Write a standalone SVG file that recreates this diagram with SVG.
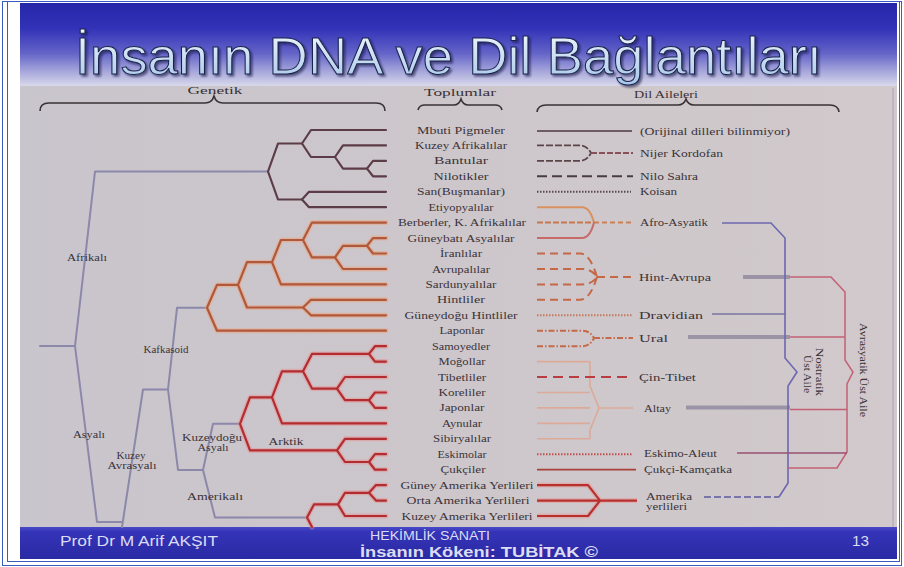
<svg xmlns="http://www.w3.org/2000/svg" width="904" height="567" viewBox="0 0 904 567">
<defs>
<linearGradient id="sky" x1="0" y1="0" x2="0" y2="1">
<stop offset="0" stop-color="#2626a8"/>
<stop offset="0.3" stop-color="#3232b8"/>
<stop offset="0.6" stop-color="#6464c8"/>
<stop offset="0.82" stop-color="#a8a8dc"/>
<stop offset="1" stop-color="#dcdcec"/>
</linearGradient>
<linearGradient id="tfill" x1="0" y1="0" x2="0" y2="1">
<stop offset="0" stop-color="#f4faff"/>
<stop offset="1" stop-color="#a6c6e8"/>
</linearGradient>
<linearGradient id="foot" x1="0" y1="0" x2="0" y2="1">
<stop offset="0" stop-color="#4a4ac8"/>
<stop offset="0.15" stop-color="#3434b8"/>
<stop offset="1" stop-color="#2a2aa4"/>
</linearGradient>
<linearGradient id="paper" x1="0" y1="0" x2="1" y2="0">
<stop offset="0" stop-color="#c9c5cc"/>
<stop offset="1" stop-color="#d1c9cb"/>
</linearGradient>
<filter id="shadow" x="-5%" y="-20%" width="110%" height="140%">
<feDropShadow dx="2" dy="2" stdDeviation="0.8" flood-color="#10143a" flood-opacity="0.6"/>
</filter>
<style>
.t{font-family:"Liberation Serif","Times New Roman",serif;font-size:10.5px;fill:#3b3338}
.pop{text-anchor:middle}
.m{text-anchor:middle}
.hd{font-family:"Liberation Serif","Times New Roman",serif;font-size:11px;fill:#3a3236;text-anchor:middle}
.brace{fill:none;stroke:#3a3236;stroke-width:1.6}
.tr{fill:none;stroke-linejoin:round;stroke-linecap:round}
.gray{stroke:#8c88aa;stroke-width:2}
.afr{stroke:#5c3c46;stroke-width:2.2}
.cauG{stroke:#eea27a;stroke-width:5;opacity:.5}
.cau{stroke:#b0583a;stroke-width:2.2}
.neaG{stroke:#ea8a8a;stroke-width:5;opacity:.45}
.nea{stroke:#b22c30;stroke-width:2.2}
.ln{fill:none}
.foot{font-family:"Liberation Sans",Arial,sans-serif;fill:#dcdcf2}
</style>
</defs>
<rect width="904" height="567" fill="#ffffff"/>
<rect x="2.5" y="1.5" width="899" height="564" fill="none" stroke="#3a5cc0" stroke-width="1"/>
<rect x="7.5" y="1.5" width="892" height="560" fill="none" stroke="#3a5cc0" stroke-width="1"/>
<rect x="20" y="3" width="877" height="84" fill="url(#sky)"/>
<rect x="20" y="86" width="877" height="441" fill="url(#paper)"/>
<line x1="893" y1="88" x2="893" y2="527" stroke="#a8a4b2" stroke-width="1"/>
<rect x="20" y="527" width="877" height="32" fill="url(#foot)"/>

<g id="title">
<text x="75" y="73.5" font-family="Liberation Sans,Arial,sans-serif" font-size="52" textLength="747" lengthAdjust="spacingAndGlyphs" fill="url(#tfill)" stroke="#18204a" stroke-width="1" filter="url(#shadow)">İnsanın DNA ve Dil Bağlantıları</text>
</g>

<g id="header-genetik"><text class="hd" x="215" y="94" textLength="55" lengthAdjust="spacingAndGlyphs">Genetik</text><path class="brace" d="M40,111 Q40,103 49,103 H205 Q212,103 214,96 Q216,103 223,103 H376 Q385,103 385,111"/></g>
<g id="header-toplumlar"><text class="hd" x="460" y="96" textLength="72" lengthAdjust="spacingAndGlyphs">Toplumlar</text><path class="brace" d="M418,110 Q419,105 425,105 H454 Q459,105 461,99 Q463,105 468,105 H495 Q501,105 502,110"/></g>
<g id="header-dil"><text class="hd" x="666" y="97.5" textLength="64" lengthAdjust="spacingAndGlyphs">Dil Aileleri</text><path class="brace" d="M537,112 Q538,105 546,105 H678 Q684,105 686,99 Q688,105 694,105 H830 Q838,105 839,112"/></g>

<g id="connectors">
<g class="tr gray">
<path d="M40,346 H75"/>
<path d="M268,171.5 H95 L75,346 L97,522 H122"/>
<path d="M168,389.5 H143 L122,527"/>
<path d="M207,307.8 H177 L168,389.5 L178,470 H203"/>
<path d="M240,423.8 H213 L203,470 L215,517.5 H307"/>
</g>
<g class="tr afr">
<path d="M386,130 H311 L302,143.5 L311,157 H335"/>
<path d="M386,145.4 H343 L335,157 L343,168.6 H367"/>
<path d="M386,160.9 H373 L367,168.6 L373,176.3 H386"/>
<path d="M386,191.8 H309 L302,199.5 L309,207.2 H386"/>
<path d="M302,143.5 H278 L268,171.5 L278,199.5 H302"/>
</g>
<g class="tr cauG">
<path d="M386,238.1 H373 L367,245.8 L373,253.5 H386"/>
<path d="M367,245.8 H343 L335,257.4 L343,269 H386"/>
<path d="M386,222.6 H312 L303,240 L312,257.4 H335"/>
<path d="M303,240 H281 L272,262.2 L281,284.4 H386"/>
<path d="M386,299.8 H311 L303,307.5 L311,315.3 H386"/>
<path d="M272,262.2 H247 L238,284.9 L247,307.5 H303"/>
<path d="M238,284.9 H217 L207,307.8 L217,330.7 H386"/>
</g>
<g class="tr cau">
<path d="M386,238.1 H373 L367,245.8 L373,253.5 H386"/>
<path d="M367,245.8 H343 L335,257.4 L343,269 H386"/>
<path d="M386,222.6 H312 L303,240 L312,257.4 H335"/>
<path d="M303,240 H281 L272,262.2 L281,284.4 H386"/>
<path d="M386,299.8 H311 L303,307.5 L311,315.3 H386"/>
<path d="M272,262.2 H247 L238,284.9 L247,307.5 H303"/>
<path d="M238,284.9 H217 L207,307.8 L217,330.7 H386"/>
</g>
<g class="tr neaG">
<path d="M386,346.2 H375 L369,353.9 L375,361.6 H386"/>
<path d="M386,392.5 H375 L369,400.2 L375,407.9 H386"/>
<path d="M386,377 H345 L337,388.6 L345,400.2 H369"/>
<path d="M369,353.9 H312 L303,371.3 L312,388.6 H337"/>
<path d="M303,371.3 H282 L272,397.3 L282,423.4 H386"/>
<path d="M386,454.2 H375 L369,462 L375,469.7 H386"/>
<path d="M386,438.8 H345 L337,450.4 L345,462 H369"/>
<path d="M272,397.3 H250 L240,423.8 L250,450.4 H337"/>
<path d="M386,485.1 H376 L369,492.8 L376,500.6 H386"/>
<path d="M369,492.8 H345 L338,504.4 L345,516 H386"/>
<path d="M338,504.4 H314 L307,517.5 L312,527"/>
</g>
<g class="tr nea">
<path d="M386,346.2 H375 L369,353.9 L375,361.6 H386"/>
<path d="M386,392.5 H375 L369,400.2 L375,407.9 H386"/>
<path d="M386,377 H345 L337,388.6 L345,400.2 H369"/>
<path d="M369,353.9 H312 L303,371.3 L312,388.6 H337"/>
<path d="M303,371.3 H282 L272,397.3 L282,423.4 H386"/>
<path d="M386,454.2 H375 L369,462 L375,469.7 H386"/>
<path d="M386,438.8 H345 L337,450.4 L345,462 H369"/>
<path d="M272,397.3 H250 L240,423.8 L250,450.4 H337"/>
<path d="M386,485.1 H376 L369,492.8 L376,500.6 H386"/>
<path d="M369,492.8 H345 L338,504.4 L345,516 H386"/>
<path d="M338,504.4 H314 L307,517.5 L312,527"/>
</g>

<g class="ln">
<path d="M537,131 H632" stroke="#4c3a40" stroke-width="1.7"/>
<path d="M537,145.4 H580 Q587,145.4 591,153 M537,160.9 H580 Q587,160.9 591,153" stroke="#5a4448" stroke-width="1.8" stroke-dasharray="7 2"/>
<path d="M591,153 H633" stroke="#8a5058" stroke-width="1.8" stroke-dasharray="6 2"/>
<path d="M537,176.3 H633" stroke="#4a3c42" stroke-width="2" stroke-dasharray="10 5"/>
<path d="M537,191.8 H631" stroke="#5a4a50" stroke-width="2" stroke-dasharray="1.5 1.5"/>
<path d="M537,207.2 H582 Q590,207.2 594,222.6" stroke="#d89262" stroke-width="2"/>
<path d="M537,222.6 H594" stroke="#c87850" stroke-width="2" stroke-dasharray="6 2"/>
<path d="M537,238.1 H582 Q590,238.1 594,222.6" stroke="#c86a6a" stroke-width="2"/>
<path d="M594,222.6 H633" stroke="#c98056" stroke-width="2" stroke-dasharray="5 3"/>
<path d="M537,253.5 H580 Q590,253.5 597,277 M537,269 H582 Q592,269 597,277 M537,284.4 H582 Q592,284.4 597,277 M537,299.8 H580 Q590,299.8 597,277" stroke="#c46848" stroke-width="2" stroke-dasharray="8 5"/>
<path d="M597,277 H633" stroke="#c46848" stroke-width="2" stroke-dasharray="8 5"/>
<path d="M537,315.3 H632" stroke="#c47a5a" stroke-width="2" stroke-dasharray="1.5 1.5"/>
<path d="M537,330.7 H582 Q590,330.7 594,338 M537,346.2 H582 Q590,346.2 594,338 M594,338 H633" stroke="#c46a48" stroke-width="2" stroke-dasharray="6 2 1.5 2"/>
<path d="M537,361.6 H590 M537,392.5 H590 M537,407.9 H590 M537,423.4 H590 M537,438.8 H590 M590,361.6 V386 L599,408 L590,430 V438.8 M599,408 H633" stroke="#dcaa98" stroke-width="1.6"/>
<path d="M537,377 H633" stroke="#b83c40" stroke-width="2.2" stroke-dasharray="10 6"/>
<path d="M537,454.2 H633" stroke="#c05050" stroke-width="2" stroke-dasharray="1.5 1.5"/>
<path d="M537,469.7 H636" stroke="#a8403c" stroke-width="1.8"/>
<path d="M537,485.1 H588 L600,500.6 L588,516 H537 M537,500.6 H637" stroke="#ea8a8a" stroke-width="5" opacity="0.4" stroke-linejoin="round"/>
<path d="M537,485.1 H588 L600,500.6 L588,516 H537 M537,500.6 H637" stroke="#b8302c" stroke-width="2.2" stroke-linejoin="round"/>

<path d="M743,277 H790 M688,337 H790 M686,407.5 H790" stroke="#9a94a6" stroke-width="4"/>
<path d="M722,223 H771 L785,238 V358 L797,372 L788,386 V483 L779,497" stroke="#6c68b0" stroke-width="1.6"/>
<path d="M704,497 H779" stroke="#5c5aa0" stroke-width="1.6" stroke-dasharray="7 3"/>
<path d="M712,314 H786" stroke="#7a74a0" stroke-width="1.4"/>
<path d="M790,277 H831 L845,292 V360 L853,372 L847,384 V452 L837,468 H787" stroke="#c46076" stroke-width="1.5"/>
<path d="M790,337 H845 M790,409.5 H847" stroke="#c46076" stroke-width="1.5"/>
<path d="M737,453 H847" stroke="#985070" stroke-width="1.3"/>
</g>
</g>

<g id="pop-1"><text class="t pop" x="461" y="133.5" textLength="88" lengthAdjust="spacingAndGlyphs">Mbuti Pigmeler</text></g>
<g id="pop-2"><text class="t pop" x="461" y="148.9" textLength="92" lengthAdjust="spacingAndGlyphs">Kuzey Afrikalılar</text></g>
<g id="pop-3"><text class="t pop" x="461" y="164.4" textLength="54" lengthAdjust="spacingAndGlyphs">Bantular</text></g>
<g id="pop-4"><text class="t pop" x="461" y="179.8" textLength="55" lengthAdjust="spacingAndGlyphs">Nilotikler</text></g>
<g id="pop-5"><text class="t pop" x="461" y="195.3" textLength="88" lengthAdjust="spacingAndGlyphs">San(Buşmanlar)</text></g>
<g id="pop-6"><text class="t pop" x="461" y="210.7" textLength="65" lengthAdjust="spacingAndGlyphs">Etiyopyalılar</text></g>
<g id="pop-7"><text class="t pop" x="462" y="226.1" textLength="128" lengthAdjust="spacingAndGlyphs">Berberler, K. Afrikalılar</text></g>
<g id="pop-8"><text class="t pop" x="461" y="241.6" textLength="107" lengthAdjust="spacingAndGlyphs">Güneybatı Asyalılar</text></g>
<g id="pop-9"><text class="t pop" x="461" y="257" textLength="42" lengthAdjust="spacingAndGlyphs">İranlılar</text></g>
<g id="pop-10"><text class="t pop" x="461" y="272.5" textLength="58" lengthAdjust="spacingAndGlyphs">Avrupalılar</text></g>
<g id="pop-11"><text class="t pop" x="461" y="287.9" textLength="71" lengthAdjust="spacingAndGlyphs">Sardunyalılar</text></g>
<g id="pop-12"><text class="t pop" x="461" y="303.3" textLength="48" lengthAdjust="spacingAndGlyphs">Hintliler</text></g>
<g id="pop-13"><text class="t pop" x="461" y="318.8" textLength="113" lengthAdjust="spacingAndGlyphs">Güneydoğu Hintliler</text></g>
<g id="pop-14"><text class="t pop" x="462" y="334.2" textLength="45" lengthAdjust="spacingAndGlyphs">Laponlar</text></g>
<g id="pop-15"><text class="t pop" x="461" y="349.7" textLength="58" lengthAdjust="spacingAndGlyphs">Samoyedler</text></g>
<g id="pop-16"><text class="t pop" x="462" y="365.1" textLength="47" lengthAdjust="spacingAndGlyphs">Moğollar</text></g>
<g id="pop-17"><text class="t pop" x="462" y="380.5" textLength="48" lengthAdjust="spacingAndGlyphs">Tibetliler</text></g>
<g id="pop-18"><text class="t pop" x="462" y="396" textLength="47" lengthAdjust="spacingAndGlyphs">Koreliler</text></g>
<g id="pop-19"><text class="t pop" x="462" y="411.4" textLength="45" lengthAdjust="spacingAndGlyphs">Japonlar</text></g>
<g id="pop-20"><text class="t pop" x="462" y="426.9" textLength="40" lengthAdjust="spacingAndGlyphs">Aynular</text></g>
<g id="pop-21"><text class="t pop" x="462" y="442.3" textLength="58" lengthAdjust="spacingAndGlyphs">Sibiryalılar</text></g>
<g id="pop-22"><text class="t pop" x="462" y="457.7" textLength="49" lengthAdjust="spacingAndGlyphs">Eskimolar</text></g>
<g id="pop-23"><text class="t pop" x="463" y="473.2" textLength="45" lengthAdjust="spacingAndGlyphs">Çukçiler</text></g>
<g id="pop-24"><text class="t pop" x="467" y="488.6" textLength="133" lengthAdjust="spacingAndGlyphs">Güney Amerika Yerlileri</text></g>
<g id="pop-25"><text class="t pop" x="468" y="504.1" textLength="123" lengthAdjust="spacingAndGlyphs">Orta Amerika Yerlileri</text></g>
<g id="pop-26"><text class="t pop" x="467" y="519.5" textLength="131" lengthAdjust="spacingAndGlyphs">Kuzey Amerika Yerlileri</text></g>

<g id="lang-orijinal"><text class="t" x="640" y="134.5" textLength="150" lengthAdjust="spacingAndGlyphs">(Orijinal dilleri bilinmiyor)</text></g>
<g id="lang-nijer"><text class="t" x="640" y="156.5" textLength="83" lengthAdjust="spacingAndGlyphs">Nijer Kordofan</text></g>
<g id="lang-nilo"><text class="t" x="640" y="179.8" textLength="58" lengthAdjust="spacingAndGlyphs">Nilo Sahra</text></g>
<g id="lang-koisan"><text class="t" x="640" y="195.3" textLength="37" lengthAdjust="spacingAndGlyphs">Koisan</text></g>
<g id="lang-afroasyatik"><text class="t" x="640" y="226.1" textLength="68" lengthAdjust="spacingAndGlyphs">Afro-Asyatik</text></g>
<g id="lang-hintavrupa"><text class="t" x="639" y="281" textLength="72" lengthAdjust="spacingAndGlyphs">Hint-Avrupa</text></g>
<g id="lang-dravidian"><text class="t" x="639" y="318.8" textLength="64" lengthAdjust="spacingAndGlyphs">Dravidian</text></g>
<g id="lang-ural"><text class="t" x="639" y="341.5" textLength="29" lengthAdjust="spacingAndGlyphs">Ural</text></g>
<g id="lang-cintibet"><text class="t" x="639" y="380.5" textLength="57" lengthAdjust="spacingAndGlyphs">Çin-Tibet</text></g>
<g id="lang-altay"><text class="t" x="644" y="411.5" textLength="27" lengthAdjust="spacingAndGlyphs">Altay</text></g>
<g id="lang-eskimo"><text class="t" x="644" y="456.5" textLength="73" lengthAdjust="spacingAndGlyphs">Eskimo-Aleut</text></g>
<g id="lang-cukci"><text class="t" x="644" y="473" textLength="88" lengthAdjust="spacingAndGlyphs">Çukçi-Kamçatka</text></g>
<g id="lang-amerika"><text class="t" x="646" y="500" textLength="46" lengthAdjust="spacingAndGlyphs">Amerika</text><text class="t" x="646" y="510" textLength="41" lengthAdjust="spacingAndGlyphs">yerlileri</text></g>

<g id="super-nostratik"><text class="t m" transform="translate(816,372) rotate(90)" x="0" y="0" textLength="48" lengthAdjust="spacingAndGlyphs">Nostratik</text><text class="t m" transform="translate(804,374) rotate(90)" x="0" y="0" textLength="38" lengthAdjust="spacingAndGlyphs">Üst Aile</text></g>
<g id="super-avrasyatik"><text class="t m" transform="translate(860,370) rotate(90)" x="0" y="0" textLength="94" lengthAdjust="spacingAndGlyphs">Avrasyatik Üst Aile</text></g>

<g id="clade-afrikali"><text class="t m" x="87" y="261" textLength="40" lengthAdjust="spacingAndGlyphs">Afrikalı</text></g>
<g id="clade-asyali"><text class="t m" x="89" y="438" textLength="32" lengthAdjust="spacingAndGlyphs">Asyalı</text></g>
<g id="clade-kuzeyavrasyali"><text class="t m" x="131" y="459" textLength="29" lengthAdjust="spacingAndGlyphs">Kuzey</text><text class="t m" x="132" y="469" textLength="49" lengthAdjust="spacingAndGlyphs">Avrasyalı</text></g>
<g id="clade-kafkasoid"><text class="t m" x="166" y="353" textLength="45" lengthAdjust="spacingAndGlyphs">Kafkasoid</text></g>
<g id="clade-kuzeydogu"><text class="t m" x="212" y="441" textLength="60" lengthAdjust="spacingAndGlyphs">Kuzeydoğu</text><text class="t m" x="213" y="451" textLength="31" lengthAdjust="spacingAndGlyphs">Asyalı</text></g>
<g id="clade-arktik"><text class="t m" x="286" y="445" textLength="35" lengthAdjust="spacingAndGlyphs">Arktik</text></g>
<g id="clade-amerikali"><text class="t m" x="215" y="500" textLength="56" lengthAdjust="spacingAndGlyphs">Amerikalı</text></g>

<g id="footer">
<text class="foot" x="60" y="546" font-size="15" textLength="158" lengthAdjust="spacingAndGlyphs">Prof Dr M Arif AKŞIT</text>
<text class="foot" x="370" y="540" font-size="12.5" textLength="120" lengthAdjust="spacingAndGlyphs">HEKİMLİK SANATI</text>
<text class="foot" x="360" y="557" font-size="14" font-weight="bold" fill="#ffffff" textLength="238" lengthAdjust="spacingAndGlyphs">İnsanın Kökeni: TUBİTAK ©</text>
<text class="foot" x="852" y="546" font-size="15" textLength="17" lengthAdjust="spacingAndGlyphs">13</text>
</g>
</svg>
